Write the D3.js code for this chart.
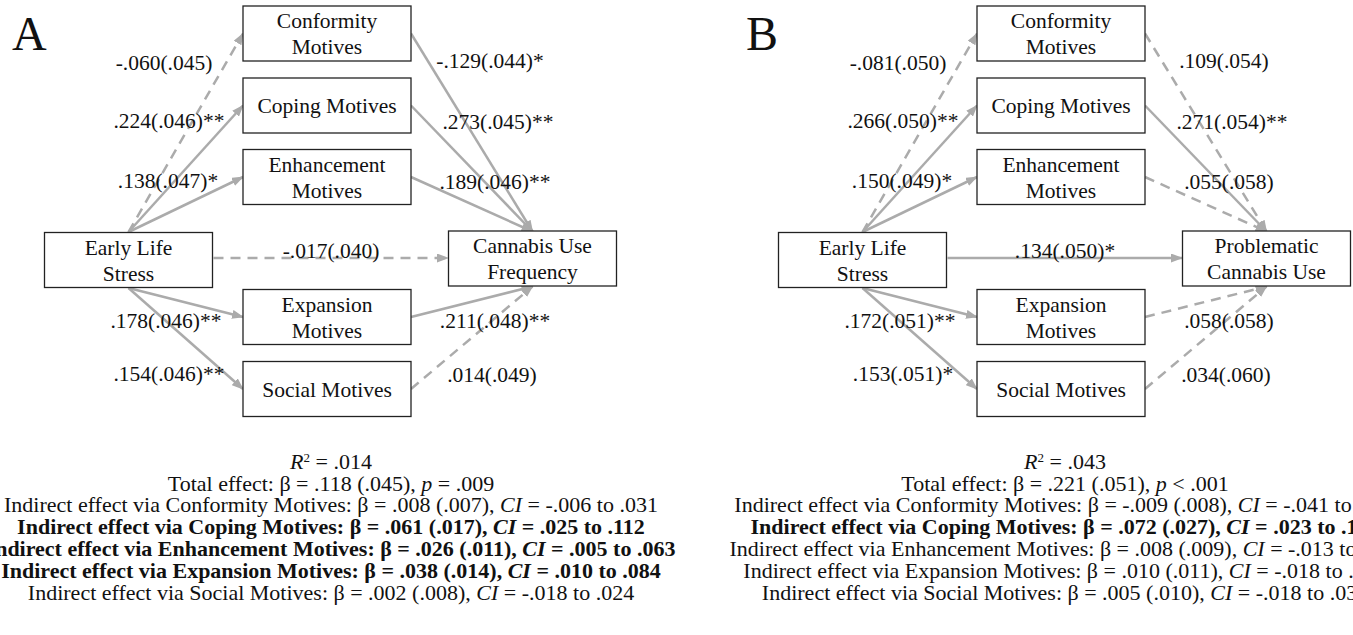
<!DOCTYPE html>
<html>
<head>
<meta charset="utf-8">
<script src="https://cdn.jsdelivr.net/npm/d3@7"></script>
<style>
  body { margin: 0; background: #fff; }
  text { white-space: pre; fill: #111; font-family: 'Liberation Serif', 'Times New Roman', Times, 'DejaVu Serif', serif; }
</style>
</head>
<body>
<svg id="chart" width="1353" height="635"></svg>
<script>
// ---- data ----
var panelLetters = ['A', 'B']
var predictorName = ['Early Life', 'Stress']
var outcomeNames = [['Cannabis Use', 'Frequency'], ['Problematic', 'Cannabis Use']]
var motiveNames = [['Conformity', 'Motives'], ['Coping Motives'], ['Enhancement', 'Motives'], ['Expansion', 'Motives'], ['Social Motives']]
var motiveShort = ['Conformity', 'Coping', 'Enhancement', 'Expansion', 'Social']

// path coefficients: stress -> motive (a), motive -> outcome (b), direct (c')
var aPathsA = ['-.060(.045)', '.224(.046)**', '.138(.047)*', '.178(.046)**', '.154(.046)**']
var bPathsA = ['-.129(.044)*', '.273(.045)**', '.189(.046)**', '.211(.048)**', '.014(.049)']
var directA = '-.017(.040)'
var aPathsB = ['-.081(.050)', '.266(.050)**', '.150(.049)*', '.172(.051)**', '.153(.051)*']
var bPathsB = ['.109(.054)', '.271(.054)**', '.055(.058)', '.058(.058)', '.034(.060)']
var directB = '.134(.050)*'

var r2Values = ['.014', '.043']
var totalBeta = ['.118', '.221']
var totalSe = ['.045', '.051']
var totalPOp = ['=', '<']
var totalP = ['.009', '.001']

var indBetaA = ['.008', '.061', '.026', '.038', '.002']
var indSeA = ['.007', '.017', '.011', '.014', '.008']
var ciLowA = ['-.006', '.025', '.005', '.010', '-.018']
var ciHighA = ['.031', '.112', '.063', '.084', '.024']
var indBetaB = ['-.009', '.072', '.008', '.010', '.005']
var indSeB = ['.008', '.027', '.009', '.011', '.010']
var ciLowB = ['-.041', '.023', '-.013', '-.018', '-.018']
var ciHighB = ['.004', '.131', '.031', '.034', '.030']

var panels = [
  {letter: panelLetters[0], outcome: outcomeNames[0], a: aPathsA, b: bPathsA, direct: directA,
   r2: r2Values[0], tb: totalBeta[0], tse: totalSe[0], pop: totalPOp[0], p: totalP[0],
   ib: indBetaA, ise: indSeA, lo: ciLowA, hi: ciHighA},
  {letter: panelLetters[1], outcome: outcomeNames[1], a: aPathsB, b: bPathsB, direct: directB,
   r2: r2Values[1], tb: totalBeta[1], tse: totalSe[1], pop: totalPOp[1], p: totalP[1],
   ib: indBetaB, ise: indSeB, lo: ciLowB, hi: ciHighB}
]

// ---- layout ----
var serif = "'Liberation Serif', 'Times New Roman', Times, 'DejaVu Serif', serif"
var svg = d3.select('#chart').attr('font-family', serif)
var lineColor = '#ababab'
var panelX = d3.scaleOrdinal().domain(panelLetters).range([0, 734])
var col = {pred: 128.5, mot: 327, out: 532.5}
var boxW = 168, boxH = 55
var motiveY = d3.scaleOrdinal().domain(motiveShort).range([33.5, 105.5, 177, 317, 389])
var centerY = 259
var nodeFont = 21.5

svg.append('defs').append('marker')
    .attr('id', 'arrow')
    .attr('markerUnits', 'userSpaceOnUse')
    .attr('markerWidth', 12).attr('markerHeight', 9)
    .attr('refX', 11).attr('refY', 4.5)
    .attr('orient', 'auto')
  .append('path')
    .attr('d', 'M0,0 L12,4.5 L0,9 Z')
    .attr('fill', lineColor)

function isSig(label) { return label.indexOf('*') >= 0 }

function drawBox(g, cx, cy, lines) {
  g.append('rect')
    .attr('x', cx - boxW / 2).attr('y', cy - boxH / 2)
    .attr('width', boxW).attr('height', boxH)
    .attr('fill', '#fff').attr('stroke', '#222').attr('stroke-width', 1.3)
  var t = g.append('text')
    .attr('text-anchor', 'middle')
    .attr('font-family', serif)
    .attr('font-size', nodeFont)
  lines.forEach(function(s, i) {
    t.append('tspan')
      .attr('x', cx)
      .attr('y', cy + (i - (lines.length - 1) / 2) * 26)
      .attr('dy', '0.35em')
      .text(s)
  })
}

panels.forEach(function(p) {
  var g = svg.append('g').attr('transform', 'translate(' + panelX(p.letter) + ',0)')

  g.append('text')
    .attr('x', 12).attr('y', 50)
    .attr('font-family', serif)
    .attr('font-size', 48)
    .text(p.letter)

  // edges
  var edges = []
  motiveShort.forEach(function(m, i) {
    var my = motiveY(m)
    var top = i < 3
    edges.push({x1: col.pred, y1: top ? centerY - 27 : centerY + 29, x2: col.mot - boxW / 2, y2: my, label: p.a[i]})
    edges.push({x1: col.mot + boxW / 2, y1: my, x2: col.out, y2: top ? centerY - 27.5 : centerY + 27.5, label: p.b[i]})
  })
  edges.push({x1: col.pred + 85, y1: 258, x2: col.out - 84.5, y2: 258, label: p.direct})

  g.selectAll('line.edge')
    .data(edges)
    .join('line')
      .attr('class', 'edge')
      .attr('x1', d => d.x1).attr('y1', d => d.y1)
      .attr('x2', d => d.x2).attr('y2', d => d.y2)
      .attr('stroke', lineColor)
      .attr('stroke-width', 2.5)
      .attr('stroke-dasharray', d => isSig(d.label) ? null : '10,7')
      .attr('marker-end', 'url(#arrow)')

  // nodes
  motiveShort.forEach(function(m, i) { drawBox(g, col.mot, motiveY(m), motiveNames[i]) })
  drawBox(g, col.pred, centerY + 1, predictorName)
  drawBox(g, col.out, centerY - 0.5, p.outcome)

  // coefficient labels
  var aLabelPos = [[164, 62], [169, 120], [168, 180], [166, 320], [169, 373]]
  var bLabelPos = [[490, 60], [498, 121], [495, 181], [495, 320], [492, 374]]
  var labels = []
  p.a.forEach((s, i) => labels.push({s: s, x: aLabelPos[i][0], y: aLabelPos[i][1]}))
  p.b.forEach((s, i) => labels.push({s: s, x: bLabelPos[i][0], y: bLabelPos[i][1]}))
  labels.push({s: p.direct, x: 331, y: 250})

  g.selectAll('text.coef')
    .data(labels)
    .join('text')
      .attr('class', 'coef')
      .attr('x', d => d.x).attr('y', d => d.y)
      .attr('dy', '0.35em')
      .attr('text-anchor', 'middle')
      .attr('font-family', serif)
      .attr('font-size', nodeFont)
      .text(d => d.s)

  // summary text
  var cx = 331, y0 = 461, step = 21.8, fs = 22
  function line(y) {
    return g.append('text').attr('x', cx).attr('y', y).attr('dy', '0.35em')
      .attr('text-anchor', 'middle').attr('font-family', serif).attr('font-size', fs)
  }
  var r2 = line(y0)
  r2.append('tspan').attr('font-style', 'italic').text('R')
  r2.append('tspan').attr('font-size', 13).attr('dy', '-7').text('2')
  r2.append('tspan').attr('dy', '7').text(' = ' + p.r2)

  var tot = line(y0 + step)
  tot.append('tspan').text('Total effect: \u03B2 = ' + p.tb + ' (' + p.tse + '), ')
  tot.append('tspan').attr('font-style', 'italic').text('p')
  tot.append('tspan').text(' ' + p.pop + ' ' + p.p)

  motiveShort.forEach(function(m, i) {
    var bold = parseFloat(p.lo[i]) > 0
    var t = line(y0 + step * (i + 2)).attr('font-weight', bold ? 'bold' : 'normal')
    t.append('tspan').text('Indirect effect via ' + m + ' Motives: \u03B2 = ' + p.ib[i] + ' (' + p.ise[i] + '), ')
    t.append('tspan').attr('font-style', 'italic').text('CI')
    t.append('tspan').text(' = ' + p.lo[i] + ' to ' + p.hi[i])
  })
})
</script>
</body>
</html>
